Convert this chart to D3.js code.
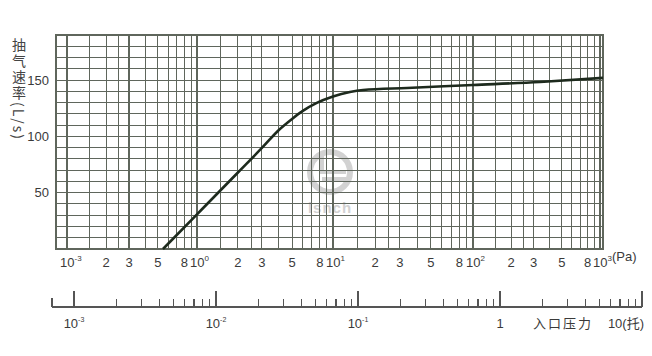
<!DOCTYPE html>
<html lang="zh">
<head>
<meta charset="UTF-8">
<title>抽气速率曲线</title>
<script src="https://d3js.org/d3.v7.min.js"></script>
<style>
  body { margin: 0; background: #fff; }
  svg { display: block; font-family: "Liberation Sans", Arial, sans-serif; }
  .grid line { stroke: #5f665c; stroke-width: 1.1px; shape-rendering: crispEdges; }
  .frame { fill: none; stroke: #5f665c; stroke-width: 1.3px; shape-rendering: crispEdges; }
  .curve { fill: none; stroke: #1d2a1d; stroke-width: 2.6px; stroke-linejoin: round; }
  .lbl { fill: #3a3a3a; font-size: 13px; }
  .torr line { stroke: #555; stroke-width: 1.2px; shape-rendering: crispEdges; }
  .ytitle { writing-mode: vertical-rl; fill: #444; font-size: 14px; letter-spacing: 2px;
            font-family: "Noto Sans CJK SC", sans-serif; }
</style>
</head>
<body>
<svg width="652" height="356"></svg>
<script>
// 曲线数据：入口压力 (Pa) / 抽气速率 (L/s)
const pressurePa = [0.547, 1, 2, 3, 4, 5, 6, 7.6, 10, 13.2, 16.4, 33.8, 100, 337, 1055];
const pumpSpeed  = [0, 30.8, 67.9, 89.7, 105.7, 115.5, 122.6, 129.7, 135.4, 139.4, 141.2, 143, 145.6, 148.3, 151.9];

// Pa 轴刻度和标签
const paTicks  = [0.1, 0.2, 0.3, 0.5, 0.8, 1, 2, 3, 5, 8, 10, 20, 30, 50, 80, 100, 200, 300, 500, 800, 1000];
const paLabels = ["10^-3", "2", "3", "5", "8", "10^0", "2", "3", "5", "8", "10^1",
                  "2", "3", "5", "8", "10^2", "2", "3", "5", "8", "10^3"];
const paDecades = [0.1, 1, 10, 100, 1000];
const gridSteps = [1.5, 2, 2.5, 3, 4, 5, 6, 7, 8, 9];

// 纵轴
const speedTicks = [50, 100, 150];
const speedGrid = d3.range(10, 190, 10);

// 托 轴
const torrMajor = [1e-3, 1e-2, 1e-1, 1, 10];
const torrLabels = ["10^-3", "10^-2", "10^-1", "1", "10(托)"];
const torrMinor = [2, 3, 4, 5, 6, 7, 8, 9];

const svg = d3.select("svg");

// 手绘的对数坐标每一段长度略有不同，用分段对数比例尺
const x = d3.scaleLog()
  .domain([0.082, 0.1, 1, 10, 100, 1000, 1055])
  .range([56, 67, 197, 333, 473, 600, 603]);
const y = d3.scaleLinear().domain([0, 190]).range([249, 35]);
const xT = d3.scaleLog().domain([1e-3, 10]).range([74, 642]);

// 水印
const wm = svg.append("g").attr("fill", "#d2d2d2");
wm.append("circle").attr("cx", 330).attr("cy", 172).attr("r", 20)
  .attr("fill", "none").attr("stroke", "#d2d2d2").attr("stroke-width", 6);
wm.append("rect").attr("x", 320).attr("y", 156).attr("width", 4).attr("height", 18);
wm.append("rect").attr("x", 320).attr("y", 170).attr("width", 26).attr("height", 4);
wm.append("rect").attr("x", 322).attr("y", 177).attr("width", 24).attr("height", 4);
wm.append("text").attr("x", 330).attr("y", 213).attr("text-anchor", "middle")
  .attr("font-size", 15).attr("font-weight", "bold").attr("letter-spacing", 1)
  .text("lsnch");

// 网格
const grid = svg.append("g").attr("class", "grid");
const vLines = [];
paDecades.forEach(d => {
  vLines.push(d);
  if (d < 1000) gridSteps.forEach(s => vLines.push(d * s));
});
grid.selectAll("line.v").data(vLines).join("line").attr("class", "v")
  .attr("x1", d => x(d)).attr("x2", d => x(d))
  .attr("y1", y(0)).attr("y2", y(190));
grid.selectAll("line.h").data(speedGrid).join("line").attr("class", "h")
  .attr("x1", x(0.082)).attr("x2", x(1055))
  .attr("y1", d => y(d)).attr("y2", d => y(d));
svg.append("rect").attr("class", "frame")
  .attr("x", x(0.082)).attr("y", y(190))
  .attr("width", x(1055) - x(0.082)).attr("height", y(0) - y(190));

// 曲线
const line = d3.line().x((d, i) => x(pressurePa[i])).y(d => y(d)).curve(d3.curveMonotoneX);
svg.append("path").attr("class", "curve").attr("d", line(pumpSpeed));

// 上标文字
function supText(sel, s, supSize) {
  const parts = s.split("^");
  sel.append("tspan").text(parts[0]);
  if (parts[1]) {
    sel.append("tspan").attr("font-size", supSize).attr("dy", -6).text(parts[1]);
  }
}

// Pa 轴标签（"10" 居中于刻度，上标向右）
paTicks.forEach((t, i) => {
  const isDecade = paLabels[i].includes("^");
  const txt = svg.append("text").attr("class", "lbl")
    .attr("x", isDecade ? x(t) - 7 : x(t)).attr("y", 267)
    .attr("text-anchor", isDecade ? "start" : "middle");
  supText(txt, paLabels[i], 8);
});
svg.append("text").attr("class", "lbl").attr("x", x(1000) + 12).attr("y", 261).text("(Pa)");

// 纵轴标签
svg.selectAll("text.ytick").data(speedTicks).join("text")
  .attr("class", "lbl ytick").attr("x", 49).attr("y", d => y(d)).attr("dy", "0.36em")
  .attr("text-anchor", "end").text(d => d);

// 纵轴标题（竖排）
svg.append("text").attr("class", "ytitle").attr("x", 19).attr("y", 38).text("抽气速率(L/s)");

// 托 轴
const torr = svg.append("g").attr("class", "torr");
const axisY = 307;
torr.append("line").attr("x1", xT(7e-4)).attr("x2", xT(10)).attr("y1", axisY).attr("y2", axisY);
torr.append("line").attr("x1", xT(7e-4)).attr("x2", xT(7e-4)).attr("y1", axisY).attr("y2", axisY - 9);
torr.selectAll("line.maj").data(torrMajor).join("line").attr("class", "maj")
  .attr("x1", d => xT(d)).attr("x2", d => xT(d)).attr("y1", axisY).attr("y2", axisY - 16);
const minors = [];
torrMajor.slice(0, 4).forEach(d => torrMinor.forEach(m => minors.push(d * m)));
torr.selectAll("line.min").data(minors).join("line").attr("class", "min")
  .attr("x1", d => xT(d)).attr("x2", d => xT(d)).attr("y1", axisY).attr("y2", axisY - 8);

torrMajor.forEach((t, i) => {
  const last = i === torrMajor.length - 1;
  const txt = svg.append("text").attr("class", "lbl").attr("font-size", 12)
    .attr("x", last ? xT(t) + 2 : xT(t)).attr("y", 328)
    .attr("text-anchor", last ? "end" : "middle");
  if (last) txt.attr("font-family", "'Liberation Sans', 'Noto Sans CJK SC', sans-serif");
  supText(txt, torrLabels[i], 7);
});
svg.append("text").attr("class", "lbl").attr("font-size", 12).attr("letter-spacing", 2)
  .attr("font-family", "'Noto Sans CJK SC', sans-serif")
  .attr("x", 563).attr("y", 328).attr("text-anchor", "middle").text("入口压力");
</script>
</body>
</html>
